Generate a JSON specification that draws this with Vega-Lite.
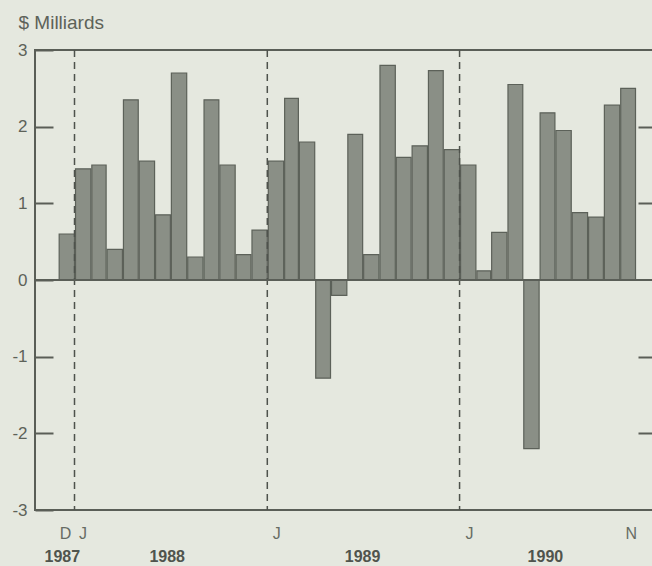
{
  "$schema": "https://vega.github.io/schema/vega-lite/v6.json",
  "width": 620,
  "height": 460,
  "autosize": {"type": "none"},
  "padding": {"left": 35, "top": 50, "right": 0, "bottom": 56},
  "background": "#e5e8df",
  "view": {"stroke": "#5a5e57", "strokeWidth": 2},
  "config": {"font": "Liberation Sans"},
  "datasets": {
    "trade": [
      {"date": "1987-12-01", "value": 0.6},
      {"date": "1988-01-01", "value": 1.45},
      {"date": "1988-02-01", "value": 1.5},
      {"date": "1988-03-01", "value": 0.4},
      {"date": "1988-04-01", "value": 2.35},
      {"date": "1988-05-01", "value": 1.55},
      {"date": "1988-06-01", "value": 0.85},
      {"date": "1988-07-01", "value": 2.7},
      {"date": "1988-08-01", "value": 0.3},
      {"date": "1988-09-01", "value": 2.35},
      {"date": "1988-10-01", "value": 1.5},
      {"date": "1988-11-01", "value": 0.33},
      {"date": "1988-12-01", "value": 0.65},
      {"date": "1989-01-01", "value": 1.55},
      {"date": "1989-02-01", "value": 2.37},
      {"date": "1989-03-01", "value": 1.8},
      {"date": "1989-04-01", "value": -1.28},
      {"date": "1989-05-01", "value": -0.2},
      {"date": "1989-06-01", "value": 1.9},
      {"date": "1989-07-01", "value": 0.33},
      {"date": "1989-08-01", "value": 2.8},
      {"date": "1989-09-01", "value": 1.6},
      {"date": "1989-10-01", "value": 1.75},
      {"date": "1989-11-01", "value": 2.73},
      {"date": "1989-12-01", "value": 1.7},
      {"date": "1990-01-01", "value": 1.5},
      {"date": "1990-02-01", "value": 0.12},
      {"date": "1990-03-01", "value": 0.62},
      {"date": "1990-04-01", "value": 2.55},
      {"date": "1990-05-01", "value": -2.2},
      {"date": "1990-06-01", "value": 2.18},
      {"date": "1990-07-01", "value": 1.95},
      {"date": "1990-08-01", "value": 0.88},
      {"date": "1990-09-01", "value": 0.82},
      {"date": "1990-10-01", "value": 2.28},
      {"date": "1990-11-01", "value": 2.5}
    ],
    "years": [
      {"date": "1988-01-01"},
      {"date": "1989-01-01"},
      {"date": "1990-01-01"}
    ]
  },
  "layer": [
    {
      "data": {"name": "trade"},
      "mark": {"type": "bar", "color": "#8a8f86", "stroke": "#5c6159", "strokeWidth": 1.2},
      "encoding": {
        "x": {
          "field": "date",
          "type": "temporal",
          "timeUnit": "utcyearmonth",
          "scale": {"type": "utc", "domain": [{"year": 1987, "month": 10, "date": 18, "utc": true}, {"year": 1991, "month": 1, "date": 7, "utc": true}]},
          "axis": {
            "title": null,
            "orient": "bottom",
            "domain": false,
            "ticks": false,
            "grid": false,
            "values": [
              {"year": 1987, "month": 12, "date": 14, "utc": true},
              {"year": 1988, "month": 1, "date": 16, "utc": true},
              {"year": 1989, "month": 1, "date": 18, "utc": true},
              {"year": 1990, "month": 1, "date": 19, "utc": true},
              {"year": 1990, "month": 11, "date": 22, "utc": true}
            ],
            "labelExpr": "slice(utcFormat(datum.value, '%b'), 0, 1)",
            "labelFontSize": 16,
            "labelColor": "#676c64",
            "labelPadding": 15,
            "labelAlign": "center",
            "labelFlush": false,
            "labelOverlap": false
          }
        },
        "y": {
          "field": "value",
          "type": "quantitative",
          "scale": {"domain": [-3, 3], "nice": false},
          "axis": {
            "title": "$ Milliards",
            "titleAngle": 0,
            "titleAlign": "left",
            "titleBaseline": "middle",
            "titleX": -17,
            "titleY": -28,
            "titleFontSize": 19,
            "titleFontWeight": "normal",
            "titleColor": "#5d6259",
            "values": [-3, -2, -1, 0, 1, 2, 3],
            "labelExpr": "'' + datum.value",
            "domain": false,
            "grid": false,
            "tickSize": -18,
            "tickWidth": 2,
            "tickColor": "#5a5e57",
            "labelPadding": 26,
            "labelFontSize": 17,
            "labelColor": "#5d6259",
            "labelFlush": false
          }
        }
      }
    },
    {
      "data": {"name": "years"},
      "mark": {"type": "rule", "color": "#4e524c", "strokeWidth": 1.5, "strokeDash": [7, 5]},
      "encoding": {
        "x": {
          "field": "date",
          "type": "temporal",
          "scale": {"type": "utc", "domain": [{"year": 1987, "month": 10, "date": 18, "utc": true}, {"year": 1991, "month": 1, "date": 7, "utc": true}]},
          "axis": {
            "title": null,
            "orient": "bottom",
            "domain": false,
            "ticks": false,
            "grid": false,
            "values": [
              {"year": 1987, "month": 12, "date": 8, "utc": true},
              {"year": 1988, "month": 6, "date": 24, "utc": true},
              {"year": 1989, "month": 6, "date": 30, "utc": true},
              {"year": 1990, "month": 6, "date": 12, "utc": true}
            ],
            "labelExpr": "utcFormat(datum.value, '%Y')",
            "labelFontSize": 16,
            "labelFontWeight": "bold",
            "labelColor": "#50544d",
            "labelPadding": 38,
            "labelAlign": "center",
            "labelFlush": false,
            "labelOverlap": false
          }
        }
      }
    },
    {
      "data": {"name": "trade"},
      "mark": {"type": "rule", "color": "#5a5e57", "strokeWidth": 2},
      "encoding": {
        "y": {
          "datum": 0,
          "type": "quantitative",
          "scale": {"domain": [-3, 3], "nice": false},
          "axis": {
            "orient": "right",
            "title": null,
            "values": [-2, -1, 1, 2],
            "labels": false,
            "domain": false,
            "grid": false,
            "tickSize": -17,
            "tickWidth": 2,
            "tickColor": "#5a5e57"
          }
        }
      }
    }
  ],
  "resolve": {"axis": {"x": "independent", "y": "independent"}}
}
